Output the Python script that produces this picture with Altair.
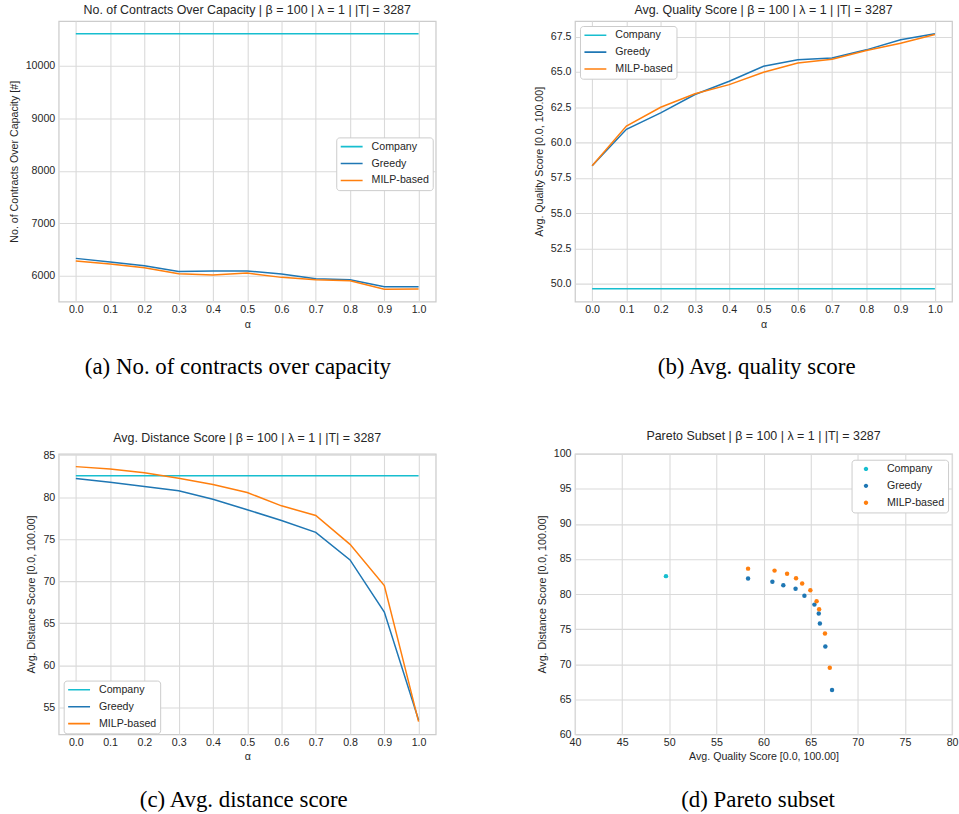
import altair as alt
import pandas as pd

# ---------------- data ----------------
alpha = [0.0, 0.1, 0.2, 0.3, 0.4, 0.5, 0.6, 0.7, 0.8, 0.9, 1.0]
methods = ["Company", "Greedy", "MILP-based"]
colors = ["#17becf", "#1f77b4", "#ff7f0e"]

company_over_capacity = 10610
greedy_over_capacity = [6330, 6260, 6190, 6082, 6090, 6090, 6030, 5943, 5924, 5790, 5790]
milp_over_capacity = [6280, 6222, 6152, 6038, 6013, 6050, 5968, 5924, 5905, 5740, 5746]

company_quality = 49.65
greedy_quality = [58.36, 60.94, 62.10, 63.40, 64.34, 65.40, 65.86, 65.98, 66.56, 67.27, 67.70]
milp_quality = [58.36, 61.17, 62.50, 63.45, 64.10, 64.97, 65.63, 65.90, 66.52, 67.03, 67.64]

company_distance = 82.55
greedy_distance = [82.20, 81.76, 81.25, 80.74, 79.75, 78.49, 77.22, 75.80, 72.53, 66.33, 53.50]
milp_distance = [83.62, 83.34, 82.90, 82.24, 81.49, 80.54, 78.96, 77.82, 74.38, 69.49, 53.30]

captions = ["(a) No. of contracts over capacity", "(b) Avg. quality score",
            "(c) Avg. distance score", "(d) Pareto subset"]
suffix = " | β = 100 | λ = 1 | |T| = 3287"

cap_ticks = [6000, 7000, 8000, 9000, 10000]
qual_ticks = [50.0, 52.5, 55.0, 57.5, 60.0, 62.5, 65.0, 67.5]
dist_ticks = [55, 60, 65, 70, 75, 80, 85]
pareto_x_ticks = [40, 45, 50, 55, 60, 65, 70, 75, 80]
pareto_y_ticks = [60, 65, 70, 75, 80, 85, 90, 95, 100]

# ---------------- tables ----------------
rows = []
for i, a in enumerate(alpha):
    rows.append(dict(method="Company", order=0, alpha=a, capacity=company_over_capacity,
                     quality=company_quality, distance=company_distance))
for i, a in enumerate(alpha):
    rows.append(dict(method="Greedy", order=1, alpha=a, capacity=greedy_over_capacity[i],
                     quality=greedy_quality[i], distance=greedy_distance[i]))
for i, a in enumerate(alpha):
    rows.append(dict(method="MILP-based", order=2, alpha=a, capacity=milp_over_capacity[i],
                     quality=milp_quality[i], distance=milp_distance[i]))
lines_df = pd.DataFrame(rows)

prow = [dict(method="Company", order=0, quality=company_quality, distance=company_distance)]
for i in range(len(alpha)):
    prow.append(dict(method="Greedy", order=1, quality=greedy_quality[i], distance=greedy_distance[i]))
for i in range(len(alpha)):
    prow.append(dict(method="MILP-based", order=2, quality=milp_quality[i], distance=milp_distance[i]))
pareto_df = pd.DataFrame(prow)

FONT = "Liberation Sans"
SERIF = "Liberation Serif"
TEXT = "#262626"
W, H = 379, 282

color_scale = alt.Scale(domain=methods, range=colors)


def line_legend(lx, ly):
    return alt.Legend(title=None, orient="none", legendX=lx, legendY=ly,
                      symbolType="stroke", symbolSize=484, symbolStrokeWidth=1.6,
                      labelOffset=8, clipHeight=11.5)


def line_panel(field, ytitle, title, ydomain, yvalues, yfmt, lx, ly):
    return alt.Chart(lines_df).mark_line(strokeWidth=1.5, clip=True).encode(
        x=alt.X("alpha:Q", title="α",
                scale=alt.Scale(domain=[-0.05, 1.05], nice=False, zero=False),
                axis=alt.Axis(values=alpha, format=".1f")),
        y=alt.Y(f"{field}:Q", title=ytitle,
                scale=alt.Scale(domain=ydomain, nice=False, zero=False),
                axis=alt.Axis(values=yvalues, format=yfmt)),
        color=alt.Color("method:N", scale=color_scale, legend=line_legend(lx, ly)),
        order=alt.Order("order:Q"),
    ).properties(width=W, height=H, title=alt.TitleParams(title + suffix))


panel_a = line_panel("capacity", "No. of Contracts Over Capacity [#]",
                     "No. of Contracts Over Capacity", [5507, 10854], cap_ticks, "d", 279, 117)
panel_b = line_panel("quality", "Avg. Quality Score [0.0, 100.00]",
                     "Avg. Quality Score", [48.75, 68.6], qual_ticks, ".1f", 5, 5)
panel_c = line_panel("distance", "Avg. Distance Score [0.0, 100.00]",
                     "Avg. Distance Score", [51.8, 85.15], dist_ticks, "d", 5, 228)

dot_path = "M-0.2,0A0.2,0.2 0 1,1 0.2,0A0.2,0.2 0 1,1 -0.2,0Z"
panel_d = alt.Chart(pareto_df).mark_circle(size=20, opacity=1, clip=True).encode(
    x=alt.X("quality:Q", title="Avg. Quality Score [0.0, 100.00]",
            scale=alt.Scale(domain=[40, 80], nice=False, zero=False),
            axis=alt.Axis(values=pareto_x_ticks, format="d")),
    y=alt.Y("distance:Q", title="Avg. Distance Score [0.0, 100.00]",
            scale=alt.Scale(domain=[60, 100], nice=False, zero=False),
            axis=alt.Axis(values=pareto_y_ticks, format="d")),
    color=alt.Color("method:N", scale=color_scale,
                    legend=alt.Legend(title=None, orient="none", legendX=278, legendY=6,
                                      symbolType=dot_path, symbolSize=484,
                                      symbolStrokeWidth=0, labelOffset=10, clipHeight=11.5)),
    order=alt.Order("order:Q"),
).properties(width=W, height=H, title=alt.TitleParams("Pareto Subset" + suffix))


def with_caption(panel, caption, dx):
    return alt.vconcat(panel, title=alt.TitleParams(
        caption, orient="bottom", anchor="middle", font=SERIF, fontSize=23,
        fontWeight="normal", color="black", offset=27, dx=dx,
    )).resolve_scale(color="independent")


chart = alt.concat(
    with_caption(panel_a, captions[0], 16),
    with_caption(panel_b, captions[1], 14),
    with_caption(panel_c, captions[2], 13),
    with_caption(panel_d, captions[3], 11),
    columns=2,
    spacing=alt.RowColnumber(column=96, row=49),
).resolve_scale(color="independent").properties(
    padding={"left": 7, "top": 0, "right": 0, "bottom": 0},
    background="white",
).configure(font=FONT).configure_view(
    stroke="#cccccc", strokeWidth=1.25,
).configure_axis(
    grid=True, gridColor="#dadada", gridWidth=1.1, domain=False, ticks=False, tickSize=0,
    labelFont=FONT, labelFontSize=10.7, labelColor=TEXT, labelPadding=4,
    labelFlush=False, labelOverlap=False,
    titleFont=FONT, titleFontSize=10.7, titleFontWeight="normal", titleColor=TEXT, titlePadding=6,
).configure_axisX(labelPadding=3, titlePadding=5).configure_legend(
    fillColor="white", strokeColor="#cccccc", padding=3.5, cornerRadius=3,
    labelFont=FONT, labelFontSize=10.7, labelColor=TEXT, rowPadding=4,
).configure_title(
    font=FONT, fontSize=12.5, fontWeight="normal", color=TEXT, offset=5,
)

chart.save("out.html", embed_options={"renderer": "svg", "actions": False})
